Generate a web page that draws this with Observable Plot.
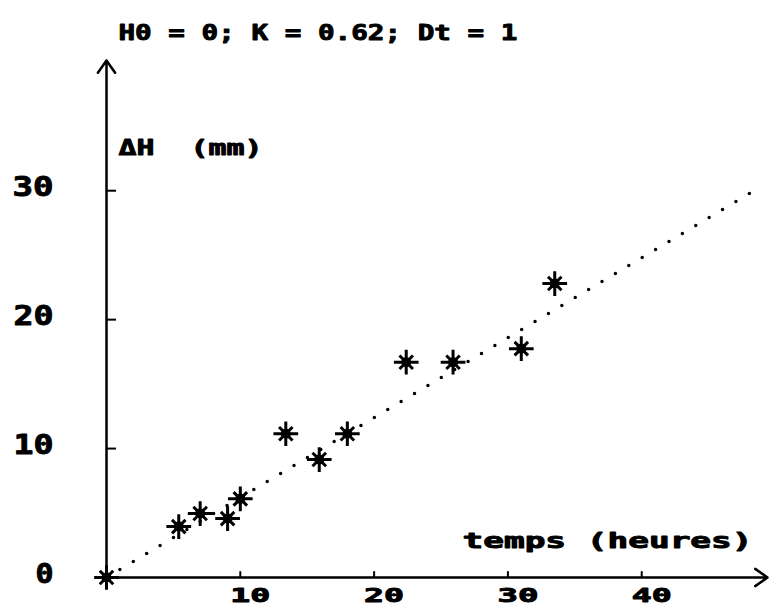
<!DOCTYPE html>
<html>
<head>
<meta charset="utf-8">
<script src="https://cdn.jsdelivr.net/npm/d3@7"></script>
<script src="https://cdn.jsdelivr.net/npm/@observablehq/plot@0.6"></script>
<style>
  html, body { margin: 0; padding: 0; background: #fff; }
  svg { display: block; }
</style>
</head>
<body>
<div id="chart"></div>
<script>
// Measured points
const temps  = [0, 5.4, 7.0, 9.05, 10.0, 13.4, 15.9, 18.0, 22.4, 25.9, 31.0, 33.5];
const deltaH = [0, 3.95, 4.96, 4.57, 6.1, 11.15, 9.15, 11.15, 16.7, 16.7, 17.75, 22.8];
// Model line H = K * t (endpoints)
const lineT = [0, 49];
const lineH = [0, 30.38];
// Ticks
const xTicks = [10, 20, 30, 40];
const yTicks = [0, 10, 20, 30];
const yTickMarks = [10, 20, 30];
// Texts
const titleText = "H0 = 0; K = 0.62; Dt = 1";
const yLabel = "\u0394H  (mm)";
const xLabel = "temps (heures)";
// Axis extents
const xMax = 49.4;
const yMax = 40.1;

const points = temps.map((t, i) => ({t, h: deltaH[i]}));
const modelLine = lineT.map((t, i) => ({t, h: lineH[i]}));

const font = "'DejaVu Sans Mono', monospace";
const txt = {fontWeight: "bold", fontFamily: font, fill: "black", stroke: "black", strokeWidth: 0.9};

const chart = Plot.plot({
  width: 770,
  height: 612,
  marginLeft: 106,
  marginRight: 3,
  marginTop: 60,
  marginBottom: 35,
  style: {fontFamily: font, fontWeight: "bold", color: "black", background: "white"},
  x: {domain: [0, xMax], axis: null},
  y: {domain: [0, yMax], axis: null},
  marks: [
    // axes as arrows
    Plot.arrow([0], {x1: 0, y1: 0, x2: xMax, y2: 0, stroke: "black", strokeWidth: 2.5, headLength: 9, headAngle: 70}),
    Plot.arrow([0], {x1: 0, y1: 0, x2: 0, y2: yMax, stroke: "black", strokeWidth: 2.5, headLength: 9, headAngle: 70}),
    // tick marks
    Plot.ruleX(xTicks, {x: d => d, y1: 0, y2: 0.45, stroke: "black", strokeWidth: 2}),
    Plot.ruleY(yTickMarks, {y: d => d, x1: 0, x2: 0.75, stroke: "black", strokeWidth: 2}),
    // tick labels
    Plot.text(xTicks, {x: d => d, y: 0, text: d => String(d), dy: 18, dx: 10, fontSize: 19, ...txt}),
    Plot.text(yTicks, {x: 0, y: d => d, text: d => String(d), dx: -53, dy: -3, textAnchor: "end", fontSize: 27, ...txt}),
    // model dotted line
    Plot.line(modelLine, {x: "t", y: "h", stroke: "black", strokeWidth: 3.5, strokeDasharray: "0 15.6", strokeLinecap: "round"}),
    // stars
    Plot.dot(points, {x: "t", y: "h", r: 5, fill: "black", stroke: "none"}),
    Plot.dot(points, {x: "t", y: "h", symbol: "plus", r: 8, stroke: "black", strokeWidth: 3}),
    Plot.dot(points, {x: "t", y: "h", symbol: "times", r: 6.2, stroke: "black", strokeWidth: 3}),
    // texts
    Plot.text([titleText], {frameAnchor: "top-left", dx: 12, dy: -35.5, textAnchor: "start", fontSize: 21, ...txt}),
    Plot.text([yLabel], {frameAnchor: "top-left", dx: 12, dy: 79.5, textAnchor: "start", fontSize: 21, ...txt}),
    Plot.text([xLabel], {frameAnchor: "bottom-right", dx: -15, dy: -30, textAnchor: "end", fontSize: 21, ...txt})
  ]
});

// stretch the wide pixel-style lettering horizontally
const widths = new Map([
  [titleText, 399], [yLabel, 144], [xLabel, 290],
  ["0", 18], ["10", 40], ["20", 40], ["30", 41], ["40", 40]
]);
d3.select(chart).selectAll("text").each(function() {
  const s = this.textContent;
  if (widths.has(s)) {
    this.setAttribute("textLength", widths.get(s));
    this.setAttribute("lengthAdjust", "spacingAndGlyphs");
  }
});
document.getElementById("chart").appendChild(chart);
</script>
</body>
</html>
